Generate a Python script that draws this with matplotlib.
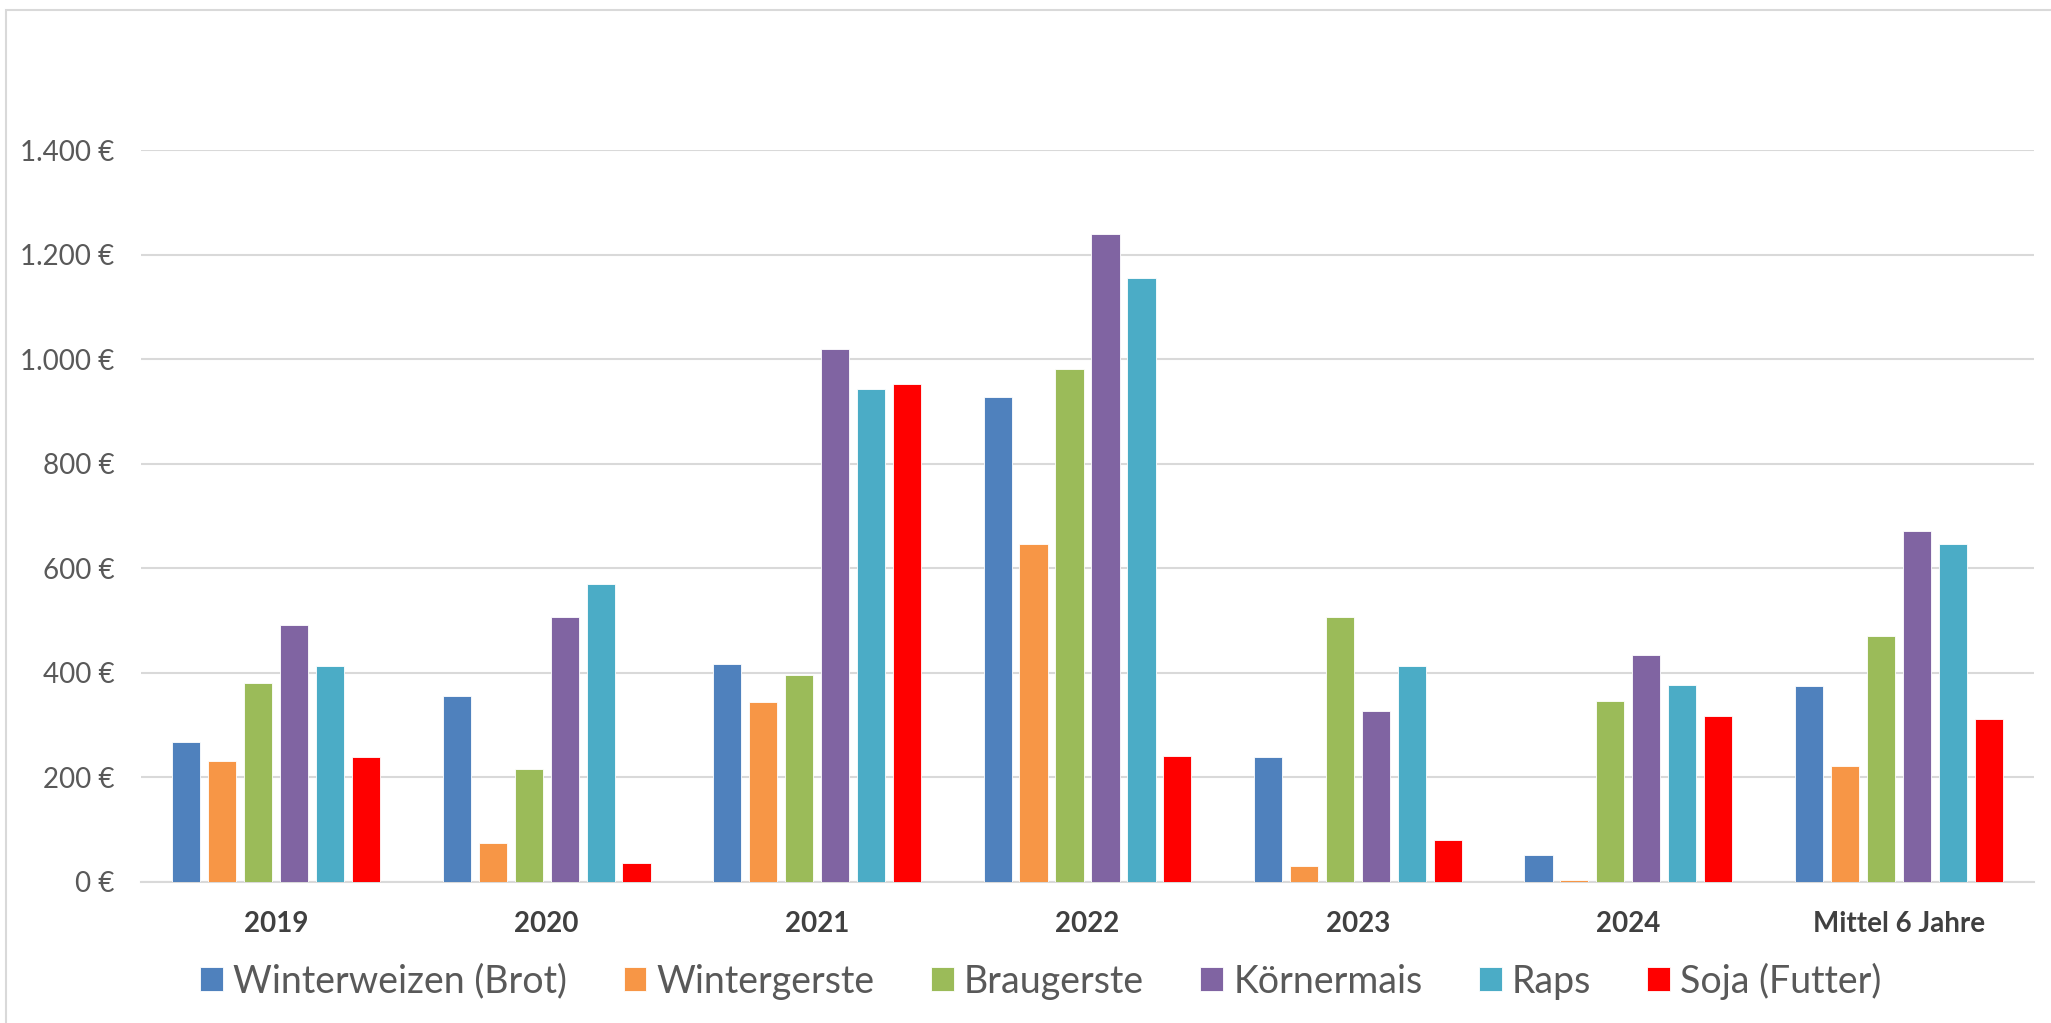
import matplotlib
matplotlib.use("Agg")
import matplotlib.pyplot as plt
import matplotlib.patches as mpatches
import numpy as np
from matplotlib.ticker import FuncFormatter

# Kategorien (x-Achse)
jahre = ["2019", "2020", "2021", "2022", "2023", "2024", "Mittel 6 Jahre"]

# Werte je Kultur in Euro
winterweizen = [268, 356, 416, 927, 238, 50, 375]
wintergerste = [230, 73, 343, 646, 30, 4, 221]
braugerste = [381, 215, 396, 982, 506, 345, 471]
koernermais = [491, 506, 1019, 1240, 326, 433, 671]
raps = [413, 569, 944, 1155, 413, 377, 646]
soja = [238, 35, 952, 240, 80, 318, 311]

namen = ["Winterweizen (Brot)", "Wintergerste", "Braugerste", "Körnermais", "Raps", "Soja (Futter)"]
farben = ["#4F81BD", "#F79646", "#9BBB59", "#8064A2", "#4BACC6", "#FF0000"]
reihen = [winterweizen, wintergerste, braugerste, koernermais, raps, soja]

plt.rcParams['font.family'] = ['Lato', 'DejaVu Sans']

fig = plt.figure(figsize=(20.51, 10.23), dpi=100)
ax = fig.add_axes([141 / 2051, 141.4 / 1023, (2034 - 141) / 2051, (881.6 - 150.4) / 1023])

# Rahmen um das Diagramm
rahmen = mpatches.Rectangle((6 / 2051, -0.01), 1.05, 1 - 10 / 1023 + 0.01, transform=fig.transFigure,
                            fill=False, edgecolor="#D9D9D9", linewidth=1.5, zorder=0)
fig.patches.append(rahmen)

x = np.arange(len(jahre))
schritt = 0.133
breite = 0.104
for i, (werte, name, farbe) in enumerate(zip(reihen, namen, farben)):
    versatz = (i - 2.5) * schritt
    ax.bar(x + versatz, werte, width=breite, color=farbe, edgecolor="white",
           linewidth=0.6, label=name, zorder=3)

ax.set_xlim(-0.5, len(jahre) - 0.5)
ax.set_ylim(0, 1400)
ax.set_yticks(np.arange(0, 1401, 200))
ax.yaxis.set_major_formatter(FuncFormatter(lambda v, p: f"{int(v):,} €".replace(",", ".")))
ax.grid(axis='y', color="#D9D9D9", linewidth=1.5, zorder=0)
for s in ["top", "right", "left"]:
    ax.spines[s].set_visible(False)
ax.spines["bottom"].set_color("#D9D9D9")
ax.spines["bottom"].set_linewidth(1.5)
ax.tick_params(axis='y', length=0, pad=19, labelsize=20, labelcolor="#595959")
ax.tick_params(axis='x', length=0, pad=21, labelsize=20, labelcolor="#404040")
ax.set_xticks(x)
ax.set_xticklabels(jahre, fontweight="bold")

fig.legend(loc="center", bbox_to_anchor=(1041 / 2051, 1 - 981 / 1023), ncol=6, frameon=False,
           fontsize=27, labelcolor="#595959", handlelength=0.61, handleheight=0.61,
           handletextpad=0.27, columnspacing=1.5)

fig.savefig("out.png", dpi=100)
